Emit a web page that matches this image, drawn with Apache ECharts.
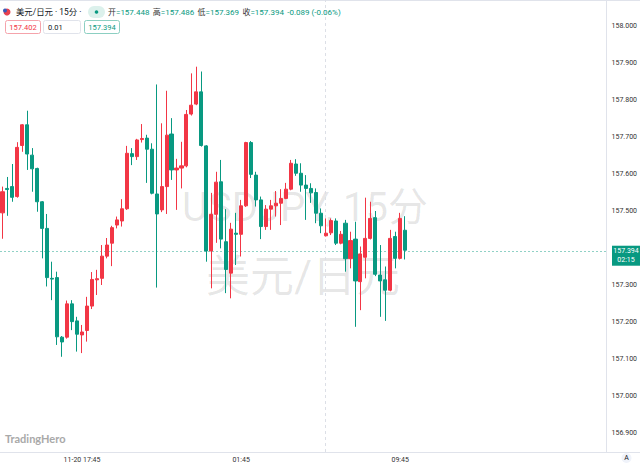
<!DOCTYPE html>
<html>
<head>
<meta charset="utf-8">
<title>美元/日元 15分</title>
<script src="https://cdn.jsdelivr.net/npm/echarts@6/dist/echarts.min.js"></script>
<style>
  html, body { margin: 0; padding: 0; background: #fff; }
  #chart { width: 640px; height: 464px; }
</style>
</head>
<body>
<div id="chart"></div>
<script>
// 美元/日元 15分K线，11-20 13:45 起
const opens = [
  157.495, 157.561, 157.566, 157.539, 157.677, 157.733, 157.651, 157.615, 157.525, 157.453,
  157.318, 157.320, 157.159, 157.159, 157.249, 157.203, 157.165, 157.177, 157.243, 157.314,
  157.318, 157.378, 157.413, 157.462, 157.473, 157.506, 157.655, 157.647, 157.693, 157.697,
  157.667, 157.546, 157.503, 157.566, 157.708, 157.611, 157.616, 157.622, 157.762, 157.789,
  157.822, 157.676, 157.392, 157.491, 157.579, 157.417, 157.332, 157.440, 157.437, 157.514,
  157.685, 157.597, 157.530, 157.458, 157.505, 157.514, 157.521, 157.534, 157.559, 157.627,
  157.602, 157.570, 157.561, 157.550, 157.494, 157.433, 157.441, 157.473, 157.413, 157.467,
  157.371, 157.424, 157.309, 157.375, 157.426, 157.482, 157.327, 157.314, 157.286, 157.431,
  157.372, 157.448
];
const highs = [
  157.566, 157.592, 157.627, 157.686, 157.735, 157.771, 157.670, 157.617, 157.527, 157.492,
  157.363, 157.336, 157.162, 157.258, 157.259, 157.214, 157.192, 157.268, 157.335, 157.341,
  157.408, 157.427, 157.460, 157.485, 157.532, 157.676, 157.670, 157.695, 157.735, 157.706,
  157.683, 157.842, 157.737, 157.825, 157.751, 157.641, 157.687, 157.773, 157.872, 157.890,
  157.877, 157.678, 157.549, 157.606, 157.638, 157.505, 157.468, 157.495, 157.530, 157.687,
  157.689, 157.606, 157.539, 157.516, 157.530, 157.554, 157.559, 157.576, 157.638, 157.640,
  157.629, 157.597, 157.575, 157.561, 157.507, 157.480, 157.480, 157.480, 157.446, 157.476,
  157.444, 157.471, 157.404, 157.536, 157.525, 157.500, 157.408, 157.350, 157.449, 157.444,
  157.495, 157.486
];
const lows = [
  157.425, 157.487, 157.525, 157.536, 157.660, 157.611, 157.552, 157.498, 157.372, 157.296,
  157.259, 157.138, 157.106, 157.155, 157.178, 157.120, 157.116, 157.147, 157.235, 157.273,
  157.300, 157.372, 157.351, 157.453, 157.458, 157.503, 157.624, 157.638, 157.685, 157.576,
  157.545, 157.293, 157.497, 157.492, 157.584, 157.503, 157.561, 157.618, 157.758, 157.786,
  157.674, 157.363, 157.291, 157.414, 157.399, 157.278, 157.264, 157.354, 157.377, 157.511,
  157.589, 157.512, 157.424, 157.449, 157.449, 157.485, 157.462, 157.532, 157.556, 157.595,
  157.552, 157.476, 157.522, 157.467, 157.440, 157.431, 157.435, 157.408, 157.410, 157.336,
  157.345, 157.187, 157.232, 157.318, 157.423, 157.324, 157.214, 157.203, 157.283, 157.345,
  157.369, 157.369
];
const closes = [
  157.552, 157.558, 157.537, 157.672, 157.733, 157.654, 157.614, 157.525, 157.453, 157.320,
  157.316, 157.160, 157.146, 157.249, 157.201, 157.167, 157.173, 157.243, 157.315, 157.317,
  157.378, 157.408, 157.455, 157.476, 157.506, 157.656, 157.647, 157.692, 157.696, 157.667,
  157.548, 157.492, 157.566, 157.705, 157.611, 157.616, 157.622, 157.761, 157.786, 157.822,
  157.677, 157.392, 157.491, 157.578, 157.424, 157.342, 157.451, 157.437, 157.514, 157.685,
  157.599, 157.530, 157.458, 157.505, 157.514, 157.521, 157.534, 157.559, 157.629, 157.602,
  157.570, 157.561, 157.549, 157.494, 157.460, 157.440, 157.474, 157.413, 157.437, 157.371,
  157.420, 157.311, 157.384, 157.426, 157.480, 157.329, 157.311, 157.286, 157.426, 157.372,
  157.480, 157.394
];

const tickTimes = ['11-20 17:45', '11-21 01:45', '11-21 09:45'];
const tickLabels = ['11-20 17:45', '01:45', '09:45'];
const sessionBreak = '11-21 06:00';
const quoteBoxes = ['157.402', '0.01', '157.394'];
const changeText = '-0.089 (-0.06%)';

// 时间轴：每根K线15分钟
const pad = (n) => String(n).padStart(2, '0');
const times = closes.map((c, i) => {
  const d = new Date(Date.UTC(2024, 10, 20, 13, 45) + i * 15 * 60000);
  return `${pad(d.getUTCMonth() + 1)}-${pad(d.getUTCDate())} ${pad(d.getUTCHours())}:${pad(d.getUTCMinutes())}`;
});

const UP = '#F23645';
const DOWN = '#089981';
const FONT = 'Roboto, "Noto Sans CJK SC", sans-serif';
const last = closes.length - 1;

const chart = echarts.init(document.getElementById('chart'), null, { renderer: 'svg' });

chart.setOption({
  animation: false,
  backgroundColor: '#fff',
  grid: { left: -1, right: 29, top: 0, bottom: 12 },
  xAxis: {
    type: 'category',
    data: times,
    max: 121, // 右侧留白
    boundaryGap: true,
    axisLine: { show: false },
    axisTick: { show: false },
    splitLine: { show: false },
    axisLabel: {
      interval: (idx, val) => tickTimes.includes(val),
      formatter: (val) => tickLabels[tickTimes.indexOf(val)],
      fontSize: 7,
      color: '#333',
      fontFamily: FONT,
      margin: 4,
    },
  },
  yAxis: {
    type: 'value',
    position: 'right',
    min: 156.84865,
    max: 158.07027,
    minInterval: 0.1,
    maxInterval: 0.1,
    scale: true,
    axisLine: { show: true, lineStyle: { color: '#e0e3eb' } },
    axisTick: { show: false },
    splitLine: { show: false },
    axisLabel: {
      showMinLabel: false,
      showMaxLabel: false,
      // 被最新价标签挡住的刻度不显示
      formatter: (v) => (Math.abs(v - closes[last]) < 0.03 ? '' : v.toFixed(3)),
      fontSize: 7,
      color: '#333',
      fontFamily: FONT,
      margin: 5,
    },
  },
  series: [
    {
      type: 'candlestick',
      barWidth: '72%',
      z: 5,
      data: closes.map((c, i) => [opens[i], c, lows[i], highs[i]]),
      itemStyle: {
        color: UP,
        color0: DOWN,
        borderColor: UP,
        borderColor0: DOWN,
        borderWidth: 1,
      },
    },
    {
      // 最新价虚线 + 交易时段分隔线
      type: 'line',
      data: [],
      markLine: {
        silent: true,
        symbol: ['none', 'none'],
        label: { show: false },
        data: [
          { yAxis: closes[last], lineStyle: { color: 'rgba(8,153,129,0.45)', type: [2, 2], width: 1 } },
          { xAxis: sessionBreak, lineStyle: { color: '#dcdfe6', type: [3, 3], width: 1 } },
        ],
      },
    },
  ],
});

// 价格标签位置跟随y轴
const tagY = chart.convertToPixel({ yAxisIndex: 0 }, closes[last]);

const ohlcText =
  `{k|开}{v|=${opens[last].toFixed(3)}} {k|高}{v|=${highs[last].toFixed(3)}} ` +
  `{k|低}{v|=${lows[last].toFixed(3)}} {k|收}{v|=${closes[last].toFixed(3)}} {v|${changeText}}`;

chart.setOption({
  graphic: [
    // 边框
    { type: 'line', shape: { x1: 0, y1: 0.5, x2: 640, y2: 0.5 }, style: { stroke: '#e0e3eb' } },
    { type: 'line', shape: { x1: 0, y1: 452.5, x2: 640, y2: 452.5 }, style: { stroke: '#e0e3eb' } },
    // 水印
    {
      type: 'text', x: 305, y: 207, z: -10, silent: true,
      style: { text: 'USDJPY, 15分', fill: 'rgba(0,0,0,0.1)', font: `40px ${FONT}`, align: 'center', verticalAlign: 'middle' },
    },
    {
      type: 'text', x: 303, y: 277, z: -10, silent: true,
      style: { text: '美元/日元', fill: 'rgba(0,0,0,0.1)', font: `44px ${FONT}`, align: 'center', verticalAlign: 'middle' },
    },
    // logo
    {
      type: 'text', x: 5, y: 438,
      style: { text: 'TradingHero', fill: '#a9a9a9', font: `bold 11px Lato, ${FONT}`, verticalAlign: 'middle' },
    },
    // 标题行
    { type: 'circle', shape: { cx: 7, cy: 12, r: 3.5 }, style: { fill: '#e8414f' } },
    { type: 'circle', shape: { cx: 5, cy: 10.5, r: 2 }, style: { fill: '#3b5bb8' } },
    {
      type: 'text', x: 16, y: 12,
      style: { text: '美元/日元 · 15分 ·', fill: '#131722', font: `8.4px ${FONT}`, verticalAlign: 'middle' },
    },
    { type: 'rect', shape: { x: 88, y: 6, width: 17, height: 12, r: 6 }, style: { fill: '#dcf1ec' } },
    { type: 'circle', shape: { cx: 96.5, cy: 12, r: 1.8 }, style: { fill: DOWN } },
    {
      type: 'text', x: 108, y: 12,
      style: {
        text: ohlcText, verticalAlign: 'middle',
        rich: {
          k: { fill: '#333', font: `8px ${FONT}` },
          v: { fill: DOWN, font: `8px ${FONT}` },
        },
      },
    },
    // 报价框
    { type: 'rect', shape: { x: 5.5, y: 20.5, width: 35, height: 13, r: 2 }, style: { fill: '#fff', stroke: '#f5a3ab' } },
    {
      type: 'text', x: 23, y: 27,
      style: { text: quoteBoxes[0], fill: UP, font: `7.5px ${FONT}`, align: 'center', verticalAlign: 'middle' },
    },
    { type: 'rect', shape: { x: 43.5, y: 20.5, width: 37, height: 13, r: 2 }, style: { fill: '#fff', stroke: '#e0e3eb' } },
    {
      type: 'text', x: 48, y: 27,
      style: { text: quoteBoxes[1], fill: '#131722', font: `7.5px ${FONT}`, verticalAlign: 'middle' },
    },
    { type: 'rect', shape: { x: 84.5, y: 20.5, width: 35, height: 13, r: 2 }, style: { fill: '#fff', stroke: '#8ccfc2' } },
    {
      type: 'text', x: 102, y: 27,
      style: { text: quoteBoxes[2], fill: DOWN, font: `7.5px ${FONT}`, align: 'center', verticalAlign: 'middle' },
    },
    // 最新价标签
    { type: 'rect', z: 20, shape: { x: 612, y: tagY - 4.5, width: 28, height: 20 }, style: { fill: DOWN } },
    {
      type: 'text', z: 21, x: 626, y: tagY + 0.5,
      style: { text: closes[last].toFixed(3), fill: '#fff', font: `7px ${FONT}`, align: 'center', verticalAlign: 'middle' },
    },
    {
      type: 'text', z: 21, x: 626, y: tagY + 10,
      style: { text: '02:15', fill: '#fff', font: `7px ${FONT}`, align: 'center', verticalAlign: 'middle' },
    },
    // 自动缩放按钮
    { type: 'circle', shape: { cx: 626.5, cy: 458, r: 5 }, style: { fill: '#f0f3fa' } },
    {
      type: 'text', x: 626.5, y: 458,
      style: { text: 'A', fill: '#131722', font: `7px ${FONT}`, align: 'center', verticalAlign: 'middle' },
    },
  ],
});
</script>
</body>
</html>
